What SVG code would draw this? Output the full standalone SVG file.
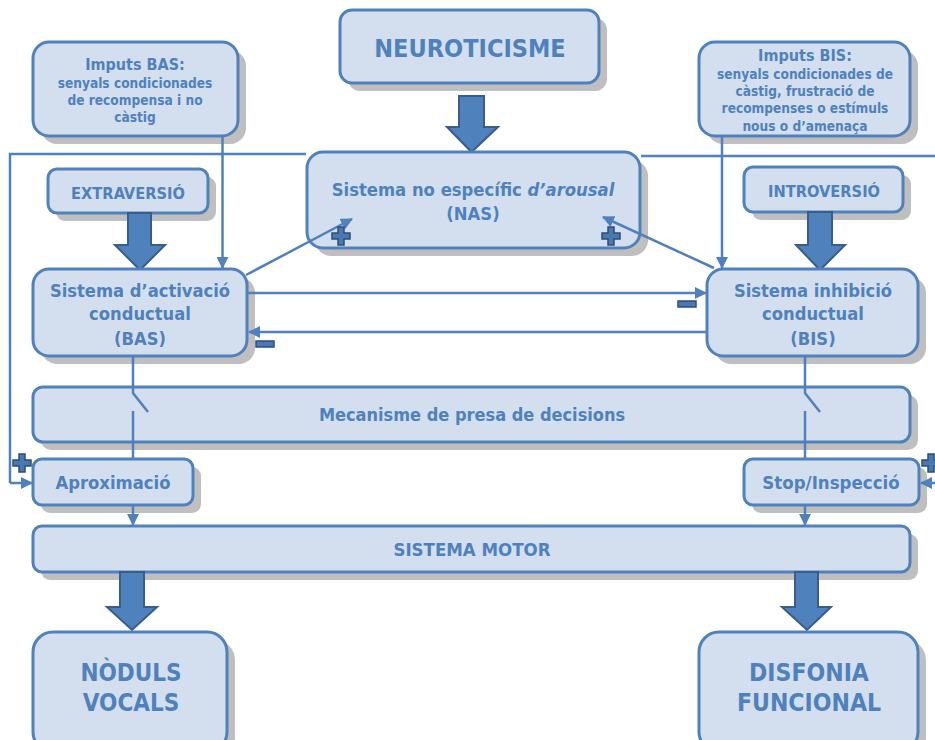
<svg xmlns="http://www.w3.org/2000/svg" width="935" height="740" viewBox="0 0 935 740">
<defs>
<marker id="ah" markerWidth="12" markerHeight="12" refX="11" refY="6" orient="auto" markerUnits="userSpaceOnUse">
<path d="M0,0 L12,6 L0,12 Z" fill="#4F81BD"/>
</marker>
<style>
.box{fill:#D3DFEE;stroke:#4F81BD;stroke-width:3}
.sh{fill:#BFBFBF}
.t{font-family:"DejaVu Sans Condensed","DejaVu Sans",Verdana,sans-serif;font-stretch:condensed;font-weight:bold;fill:#4F81BD;text-anchor:middle}
.ln{fill:none;stroke:#4F81BD;stroke-width:2.5}
.big{fill:#4F81BD;stroke:#385D8A;stroke-width:2}
.sg{fill:#4A78B0;stroke:#2C4D7A;stroke-width:1.5}
</style>
</defs>
<rect width="935" height="740" fill="#FFFFFF"/>

<g id="imputs-bas">
<rect class="sh" x="41" y="50" width="205" height="94" rx="16"/>
<rect class="box" x="33" y="42" width="205" height="94" rx="16"/>
<text class="t" x="135" y="70" font-size="16">Imputs BAS:</text>
<text class="t" x="135" y="88" font-size="13.6">senyals condicionades</text>
<text class="t" x="135" y="105" font-size="13.6">de recompensa i no</text>
<text class="t" x="135" y="122" font-size="13.6">càstig</text>
</g>

<g id="imputs-bis">
<rect class="sh" x="707" y="50" width="211" height="94" rx="16"/>
<rect class="box" x="699" y="42" width="211" height="94" rx="16"/>
<text class="t" x="805" y="61" font-size="16">Imputs BIS:</text>
<text class="t" x="805" y="79" font-size="13.6">senyals condicionades de</text>
<text class="t" x="805" y="96" font-size="13.6">càstig, frustració de</text>
<text class="t" x="805" y="113" font-size="13.6">recompenses o estímuls</text>
<text class="t" x="805" y="131" font-size="13.6">nous o d’amenaça</text>
</g>

<g id="neuroticisme">
<rect class="sh" x="348" y="18" width="259" height="73" rx="12"/>
<rect class="box" x="340" y="10" width="259" height="73" rx="12"/>
<text class="t" x="470" y="57" font-size="25">NEUROTICISME</text>
</g>
<path class="big" d="M459,96 H484 V127 H498 L471.5,152 L447,127 H459 Z"/>

<g id="nas">
<rect class="sh" x="315" y="160" width="333" height="96" rx="16"/>
<rect class="box" x="307" y="152" width="333" height="96" rx="16"/>
<text class="t" x="473" y="196" font-size="18.3">Sistema no específic <tspan font-style="italic">d’arousal</tspan></text>
<text class="t" x="473" y="220" font-size="18.3">(NAS)</text>
</g>

<g id="extraversio">
<rect class="sh" x="56" y="177" width="160" height="44" rx="9"/>
<rect class="box" x="48" y="169" width="160" height="44" rx="9"/>
<text class="t" x="128" y="199" font-size="16.3">EXTRAVERSIÓ</text>
</g>
<path class="big" d="M128,213 H151 V245 H165 L140,270 L115,245 H128 Z"/>

<g id="introversio">
<rect class="sh" x="752" y="175" width="159" height="45" rx="9"/>
<rect class="box" x="744" y="167" width="159" height="45" rx="9"/>
<text class="t" x="824" y="197" font-size="16.3">INTROVERSIÓ</text>
</g>
<path class="big" d="M808,212 H832 V245 H845 L820,270 L796,245 H808 Z"/>

<g id="bas">
<rect class="sh" x="41" y="277" width="214" height="87" rx="16"/>
<rect class="box" x="33" y="269" width="214" height="87" rx="16"/>
<text class="t" x="140" y="297" font-size="18.2">Sistema d’activació</text>
<text class="t" x="140" y="320" font-size="18.2">conductual</text>
<text class="t" x="140" y="345" font-size="18.2">(BAS)</text>
</g>

<g id="bis">
<rect class="sh" x="715" y="277" width="211" height="87" rx="16"/>
<rect class="box" x="707" y="269" width="211" height="87" rx="16"/>
<text class="t" x="813" y="297" font-size="18.2">Sistema inhibició</text>
<text class="t" x="813" y="320" font-size="18.2">conductual</text>
<text class="t" x="813" y="345" font-size="18.2">(BIS)</text>
</g>

<g id="decisions">
<rect class="sh" x="41" y="395" width="877" height="55" rx="10"/>
<rect class="box" x="33" y="387" width="877" height="55" rx="10"/>
<text class="t" x="472" y="421" font-size="18">Mecanisme de presa de decisions</text>
</g>

<g id="aproximacio">
<rect class="sh" x="41" y="467" width="160" height="46" rx="9"/>
<rect class="box" x="33" y="459" width="160" height="46" rx="9"/>
<text class="t" x="113" y="489" font-size="18.3">Aproximació</text>
</g>

<g id="stop">
<rect class="sh" x="752" y="467" width="175" height="46" rx="9"/>
<rect class="box" x="744" y="459" width="175" height="46" rx="9"/>
<text class="t" x="831" y="489" font-size="18.5">Stop/Inspecció</text>
</g>

<g id="motor">
<rect class="sh" x="41" y="534" width="877" height="46" rx="9"/>
<rect class="box" x="33" y="526" width="877" height="46" rx="9"/>
<text class="t" x="472" y="556" font-size="18.5">SISTEMA MOTOR</text>
</g>
<path class="big" d="M120,572 H144 V607 H157 L132,630 L107,607 H120 Z"/>
<path class="big" d="M795,572 H818 V607 H831 L807,630 L782,607 H795 Z"/>

<g id="noduls">
<rect class="sh" x="41" y="640" width="194" height="120" rx="20"/>
<rect class="box" x="33" y="632" width="194" height="120" rx="20"/>
<text class="t" x="131" y="681" font-size="24">NÒDULS</text>
<text class="t" x="131" y="711" font-size="24">VOCALS</text>
</g>

<g id="disfonia">
<rect class="sh" x="707" y="640" width="219" height="120" rx="20"/>
<rect class="box" x="699" y="632" width="219" height="120" rx="20"/>
<text class="t" x="809" y="681" font-size="24.5">DISFONIA</text>
<text class="t" x="809" y="711" font-size="24.5">FUNCIONAL</text>
</g>

<g id="connectors">
<path class="ln" d="M10,483 V154 H306"/>
<path class="ln" d="M641,156 H940 V483 H921" marker-end="url(#ah)"/>
<path class="ln" d="M10,483 H32" marker-end="url(#ah)"/>
<path class="ln" d="M222.5,137 V268" marker-end="url(#ah)"/>
<path class="ln" d="M722,137 V268" marker-end="url(#ah)"/>
<path class="ln" d="M246,275 L352,219" marker-end="url(#ah)"/>
<path class="ln" d="M714,268 L603,217" marker-end="url(#ah)"/>
<path class="ln" d="M248,293 H706" marker-end="url(#ah)"/>
<path class="ln" d="M706,332 H249" marker-end="url(#ah)"/>
<path class="ln" d="M133,357 V393 L148,412 M133,411 V458"/>
<path class="ln" d="M805,357 V393 L820,412 M805,411 V458"/>
<path class="ln" d="M133,506 V525" marker-end="url(#ah)"/>
<path class="ln" d="M805,506 V525" marker-end="url(#ah)"/>
</g>

<g id="signs">
<path class="sg" d="M338,227 h6 v6 h6 v6 h-6 v6 h-6 v-6 h-6 v-6 h6 Z"/>
<path class="sg" d="M608,227 h6 v6 h6 v6 h-6 v6 h-6 v-6 h-6 v-6 h6 Z"/>
<path class="sg" d="M19,454 h6 v6 h6 v6 h-6 v6 h-6 v-6 h-6 v-6 h6 Z"/>
<path class="sg" d="M928,454 h6 v6 h6 v6 h-6 v6 h-6 v-6 h-6 v-6 h6 Z"/>
<rect class="sg" x="678" y="301" width="18" height="6"/>
<rect class="sg" x="256" y="341" width="18" height="6"/>
</g>
</svg>
